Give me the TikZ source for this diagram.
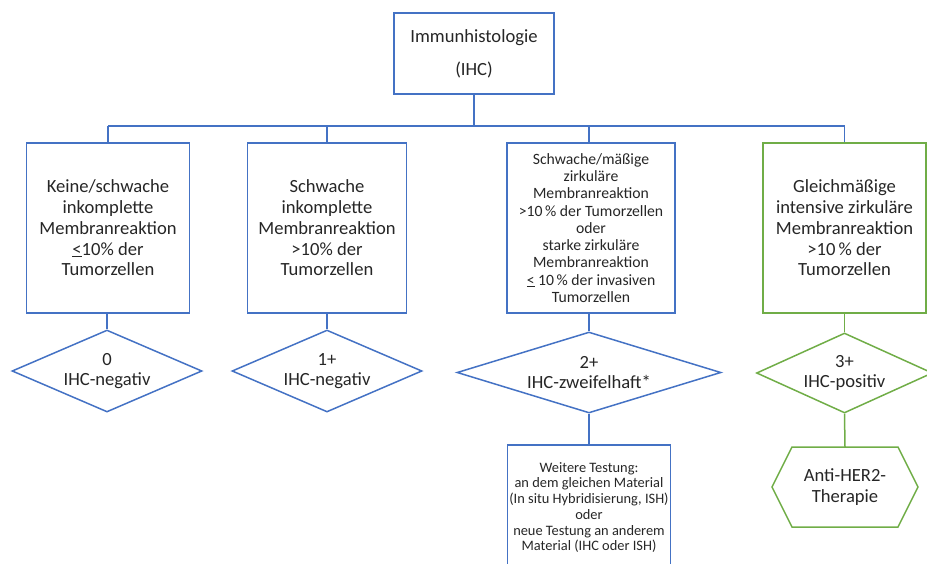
\documentclass[tikz,border=0pt]{standalone}
\usepackage{fontspec}
\setmainfont{Carlito}
\usetikzlibrary{shapes.geometric}
\definecolor{mblue}{HTML}{4472C4}
\definecolor{mgreen}{HTML}{70AD47}
\definecolor{mtext}{HTML}{262626}
\begin{document}
\begin{tikzpicture}[x=1pt,y=-1pt,
  line width=1.5pt,
  every node/.style={text=mtext,align=center,inner sep=0pt},
  bigtxt/.style={font=\fontsize{18.6}{20.7}\selectfont},
  midtxt/.style={font=\fontsize{15.7}{17.3}\selectfont},
  smalltxt/.style={font=\fontsize{14.4}{15.7}\selectfont},
  bluebox/.style={draw=mblue,rectangle},
  greenbox/.style={draw=mgreen,rectangle},
  bluewire/.style={draw=mblue},
  greenwire/.style={draw=mgreen}]
\useasboundingbox (0,0) rectangle (927,563);
\clip (0,0) rectangle (927,563);

% top box
\node[bluebox,minimum width=160pt,minimum height=81pt,font=\fontsize{18.6}{33}\selectfont] (top) at (474,53.5) {Immunhistologie\\(IHC)};

% level 1 boxes
\node[bluebox,minimum width=163pt,minimum height=170pt,bigtxt] (b1) at (108,228) {Keine/schwache\\inkomplette\\Membranreaktion\\\underline{<}10\% der\\Tumorzellen};
\node[bluebox,minimum width=159pt,minimum height=170pt,bigtxt] (b2) at (327,228) {Schwache\\inkomplette\\Membranreaktion\\>10\% der\\Tumorzellen};
\node[bluebox,minimum width=168pt,minimum height=170pt,midtxt] (b3) at (591,228) {Schwache/mäßige\\zirkuläre\\Membranreaktion\\>10\,\% der Tumorzellen\\oder\\starke zirkuläre\\Membranreaktion\\\underline{<} 10\,\% der invasiven\\Tumorzellen};
\node[greenbox,minimum width=163pt,minimum height=170pt,bigtxt] (b4) at (844.5,228) {Gleichmäßige\\intensive zirkuläre\\Membranreaktion\\>10\,\% der\\Tumorzellen};

% junction coordinates
\coordinate (j0) at (474,126);
\coordinate (j1) at (108,126);
\coordinate (j2) at (327,126);
\coordinate (j3) at (589,126);
\coordinate (j4) at (844.5,126);

\draw[bluewire] (top.south) -- (j0);
\draw[bluewire] (j1) -- (j4);
\draw[bluewire] (j1) -- (j1 |- b1.north);
\draw[bluewire] (j2) -- (j2 |- b2.north);
\draw[bluewire] (j3) -- (j3 |- b3.north);
\draw[bluewire] (j4) -- (b4.north);

% diamonds
\node[diamond,draw=mblue,minimum width=190pt,minimum height=82pt] (d1) at (107,371) {};
\node[bigtxt] (t1) at (d1.center) {0\\IHC-negativ};
\node[diamond,draw=mblue,minimum width=190pt,minimum height=82pt] (d2) at (327,371) {};
\node[bigtxt] (t2) at (d2.center) {1+\\IHC-negativ};
\node[diamond,draw=mblue,minimum width=264pt,minimum height=81pt] (d3) at (589,372.5) {};
\node[bigtxt] (t3) at (d3.center) {2+\\IHC-zweifelhaft*};
\node[diamond,draw=mgreen,minimum width=176pt,minimum height=80pt] (d4) at (844.5,373) {};
\node[bigtxt] (t4) at (d4.center) {3+\\IHC-positiv};

\draw[bluewire] (b1.south -| d1.north) -- (d1.north);
\draw[bluewire] (b2.south -| d2.north) -- (d2.north);
\draw[bluewire] (b3.south -| d3.north) -- (d3.north);
\draw[greenwire] (b4.south) -- (d4.north);

% bottom box
\node[bluebox,minimum width=163pt,minimum height=125pt] (b5) at (589,507.5) {};
\node[smalltxt] (t5) at (589,507.5) {Weitere Testung:\\an dem gleichen Material\\(In situ Hybridisierung, ISH)\\oder\\neue Testung an anderem\\Material (IHC oder ISH)};
\draw[bluewire] (d3.south) -- (b5.north);

% hexagon
\coordinate (hc) at (845,487);
\draw[mgreen] ([shift={(-73,0)}]hc) -- ([shift={(-53,-40)}]hc) -- ([shift={(53,-40)}]hc) -- ([shift={(73,0)}]hc) -- ([shift={(53,40)}]hc) -- ([shift={(-53,40)}]hc) -- cycle;
\coordinate (htop) at ([shift={(0,-40)}]hc);
\node[bigtxt] (hex) at (hc) {Anti-HER2-\\Therapie};
\draw[greenwire] (d4.south) -- (htop);
\end{tikzpicture}
\end{document}
